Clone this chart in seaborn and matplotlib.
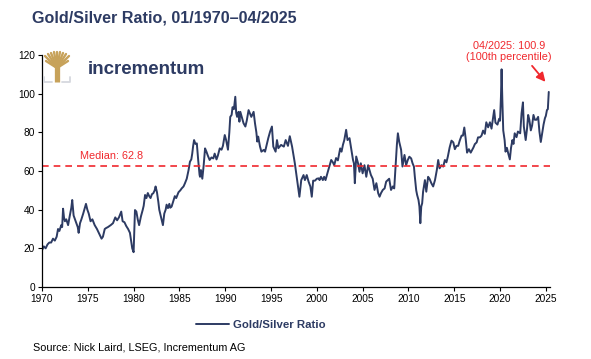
import numpy as np
import pandas as pd
import matplotlib
matplotlib.use("Agg")
import matplotlib.pyplot as plt
import seaborn as sns

# ---- data ----
years = [
    1970.0, 1970.2, 1970.4, 1970.6, 1970.8, 1971.0, 1971.2, 1971.4, 1971.6, 1971.75, 1971.9,
    1972.1, 1972.2, 1972.3, 1972.4, 1972.5, 1972.65, 1972.85, 1973.0, 1973.2, 1973.3, 1973.45,
    1973.6, 1973.75, 1973.9, 1974.0, 1974.15, 1974.3, 1974.5, 1974.8, 1974.95, 1975.1, 1975.3,
    1975.5, 1975.75, 1976.0, 1976.2, 1976.5, 1976.65, 1976.85, 1977.0, 1977.2, 1977.5, 1977.75,
    1978.0, 1978.2, 1978.4, 1978.65, 1978.8, 1979.0, 1979.2, 1979.4, 1979.6, 1979.75, 1979.85,
    1980.0, 1980.15, 1980.3, 1980.45, 1980.6, 1980.8, 1981.0, 1981.1, 1981.25, 1981.4, 1981.55,
    1981.7, 1981.85, 1982.0, 1982.15, 1982.3, 1982.4, 1982.55, 1982.7, 1982.8, 1982.95, 1983.1,
    1983.2, 1983.35, 1983.5, 1983.6, 1983.75, 1983.9, 1984.0, 1984.15, 1984.3, 1984.5, 1984.65,
    1984.9, 1985.1, 1985.25, 1985.45, 1985.6, 1985.8, 1986.0, 1986.15, 1986.3, 1986.4, 1986.5,
    1986.6, 1986.75, 1986.9, 1987.05, 1987.2, 1987.25, 1987.35, 1987.5, 1987.65, 1987.8, 1987.95,
    1988.1, 1988.3, 1988.5, 1988.7, 1988.85, 1989.05, 1989.2, 1989.4, 1989.6, 1989.75, 1989.95,
    1990.1, 1990.3, 1990.45, 1990.55, 1990.7, 1990.8, 1990.95, 1991.1, 1991.2, 1991.3, 1991.45,
    1991.55, 1991.65, 1991.8, 1992.0, 1992.2, 1992.35, 1992.55, 1992.7, 1992.85, 1993.1, 1993.25,
    1993.4, 1993.5, 1993.6, 1993.8, 1993.95, 1994.2, 1994.35, 1994.5, 1994.7, 1994.9, 1995.1,
    1995.25, 1995.5, 1995.65, 1995.8, 1996.1, 1996.4, 1996.6, 1996.85, 1997.05, 1997.3, 1997.45,
    1997.6, 1997.8, 1997.95, 1998.1, 1998.3, 1998.55, 1998.7, 1998.9, 1999.1, 1999.3, 1999.45,
    1999.6, 1999.8, 2000.0, 2000.2, 2000.3, 2000.45, 2000.66, 2000.8, 2000.95, 2001.1, 2001.2,
    2001.4, 2001.57, 2001.75, 2001.9, 2002.1, 2002.3, 2002.55, 2002.7, 2002.85, 2003.0, 2003.2,
    2003.35, 2003.57, 2003.75, 2003.95, 2004.05, 2004.15, 2004.3, 2004.5, 2004.66, 2004.8, 2005.0,
    2005.2, 2005.4, 2005.6, 2005.75, 2005.9, 2006.1, 2006.3, 2006.5, 2006.7, 2006.85, 2007.0,
    2007.2, 2007.4, 2007.57, 2007.75, 2007.9, 2008.1, 2008.3, 2008.45, 2008.6, 2008.74, 2008.85,
    2009.0, 2009.2, 2009.35, 2009.57, 2009.75, 2009.93, 2010.1, 2010.3, 2010.45, 2010.6, 2010.7,
    2010.85, 2010.95, 2011.1, 2011.2, 2011.3, 2011.4, 2011.5, 2011.6, 2011.8, 2011.95, 2012.15,
    2012.3, 2012.5, 2012.7, 2012.9, 2013.1, 2013.25, 2013.4, 2013.6, 2013.8, 2013.98, 2014.15,
    2014.3, 2014.5, 2014.7, 2014.9, 2015.07, 2015.25, 2015.43, 2015.6, 2015.8, 2015.95, 2016.1,
    2016.25, 2016.4, 2016.6, 2016.8, 2017.1, 2017.25, 2017.45, 2017.6, 2017.8, 2017.98, 2018.15,
    2018.34, 2018.5, 2018.7, 2018.9, 2019.07, 2019.2, 2019.36, 2019.5, 2019.72, 2019.9, 2020.0,
    2020.1, 2020.17, 2020.25, 2020.35, 2020.5, 2020.6, 2020.75, 2020.9, 2021.07, 2021.2, 2021.35,
    2021.47, 2021.6, 2021.8, 2021.95, 2022.2, 2022.35, 2022.5, 2022.6, 2022.8, 2022.95, 2023.07,
    2023.2, 2023.36, 2023.5, 2023.65, 2023.8, 2023.98, 2024.16, 2024.3, 2024.45, 2024.6, 2024.75,
    2024.9, 2025.0, 2025.12, 2025.22, 2025.32,
]
ratio = [
    19, 21, 20, 22, 23, 23, 25, 24, 26, 30, 29,
    32, 31, 40.5, 36, 34, 35, 32, 36, 41, 45, 37,
    35, 33, 31, 28, 33, 35, 38, 43, 40, 38, 34,
    35, 32, 30, 28, 25, 26, 30, 30.5, 31, 32, 33,
    36, 34.5, 36, 39, 34, 33.5, 31.5, 30, 28, 23, 20,
    18, 39.8, 39, 35, 32, 36.5, 40, 42, 47.6, 46, 48.6,
    47, 46, 48, 48.5, 50, 52, 49, 44, 40, 37, 34,
    32, 38, 40, 42.6, 40.8, 43, 41, 41.6, 44, 47, 46,
    49, 50, 51, 52, 53.6, 56, 60.5, 64.8, 66, 69, 73,
    76, 74, 74.3, 65.7, 58, 57, 60.5, 56, 63, 71.7, 70,
    68, 65.7, 67, 66.5, 69, 66, 68, 71.7, 71, 73, 78.6,
    76, 71, 80, 88, 89, 93, 92, 98.4, 90, 88, 90.6,
    85.5, 90.6, 88, 84.7, 83, 86, 91.5, 89.8, 88, 90.6, 84.7,
    80, 75.2, 77.8, 72.6, 70, 70.9, 70, 73, 77, 80.4, 83,
    72.6, 70, 76, 71.8, 73.5, 72.6, 76, 73, 78, 72.6, 68.3,
    64, 57, 52, 46.7, 55.3, 57.9, 55.3, 57.9, 54.5, 51.9, 46.7,
    55, 55, 56, 56.2, 55.3, 57, 55.3, 57, 55.3, 58, 59.6,
    63, 65.7, 64.5, 63, 66.7, 65.5, 71.7, 70, 73.5, 76, 81.3,
    76, 77, 71.7, 65.7, 64, 53.7, 67.5, 64, 59.6, 64, 58.8,
    63, 57, 63, 60.5, 58, 56, 50.2, 53.7, 48.5, 46.7, 48.5,
    50.2, 51, 54.5, 55.3, 56, 50.2, 52, 51, 62.3, 73.6, 79.5,
    75, 71, 62.3, 68.3, 63, 65.7, 67.4, 66.5, 64, 62.3, 57,
    50, 47.6, 45, 41.6, 33, 41.6, 43.3, 49.3, 55.3, 49.3, 57,
    56, 53.7, 52, 55.3, 60.5, 65.7, 61.4, 63, 62.3, 65.7, 64.5,
    67.4, 72.2, 75.7, 74.8, 71.3, 73, 73, 75.7, 78.3, 78.3, 82.5,
    76.7, 69.5, 71.3, 69.5, 72.2, 73.9, 74.8, 77.4, 77.4, 78.3, 80.9,
    79.2, 85.2, 82.6, 85.2, 81.9, 86.1, 91.5, 85, 84, 87, 86,
    98.4, 112.6, 97, 81, 76, 70, 72, 69, 66, 72, 76,
    74, 79.5, 77.5, 80.4, 79.5, 89.8, 95.5, 83, 76, 82, 89,
    86.5, 81, 83.5, 89, 86.5, 86.5, 88, 80.4, 75, 79.5, 84,
    87.3, 88.5, 91.5, 92, 100.9,
]
median_value = 62.8
series_name = "Gold/Silver Ratio"
title_text = "Gold/Silver Ratio, 01/1970\u201304/2025"
source_text = "Source: Nick Laird, LSEG, Incrementum AG"
annotation_text = "04/2025: 100.9\n(100th percentile)"
x_ticks = list(range(1970, 2026, 5))
y_ticks = list(range(0, 121, 20))

df = pd.DataFrame({"year": years, series_name: ratio})

# ---- styling ----
sns.set_style("ticks")
plt.rcParams["font.family"] = ["Liberation Sans", "DejaVu Sans"]

navy = "#2D3B63"
red = "#F0282D"

fig = plt.figure(figsize=(5.91, 3.59), dpi=100)
ax = fig.add_axes([42 / 591, 72 / 359, 507.5 / 591, 232 / 359])

sns.lineplot(data=df, x="year", y=series_name, ax=ax, color=navy,
             linewidth=1.4, label=series_name, legend=False)

ax.axhline(median_value, color=red, linestyle=(0, (4, 3)), linewidth=1.2)
ax.text(1974.2, median_value + 2.3, f"Median: {median_value}", color=red,
        fontsize=7.8, ha="left", va="bottom")

ax.annotate("", xy=(2025.15, 105), xytext=(2023.3, 115.5),
            arrowprops=dict(arrowstyle="-|>", color=red, lw=1.3,
                            mutation_scale=13),
            annotation_clip=False)
ax.text(2020.95, 122, annotation_text, color=red, fontsize=7.8,
        ha="center", va="center", linespacing=1.1, clip_on=False)

ax.set_xlim(1970, 2025.4)
ax.set_ylim(0, 120)
ax.set_xticks(x_ticks)
ax.set_yticks(y_ticks)
ax.tick_params(axis="both", labelsize=7.3, length=3, width=0.8, colors="black",
               pad=2)
for s in ["top", "right"]:
    ax.spines[s].set_visible(False)
for s in ["left", "bottom"]:
    ax.spines[s].set_color("black")
    ax.spines[s].set_linewidth(0.9)
ax.set_xlabel("")
ax.set_ylabel("")

# title
fig.text(32 / 591, 1 - 18 / 359, title_text, fontsize=11.6, fontweight="bold",
         color=navy, ha="left", va="center")

# logo (tree mark + wordmark)
gold = "#C7A25A"
def px(x, y):
    return (x / 591, 1 - y / 359)
trunk_x = [px(57, 82)[0], px(57, 66)[0]]
trunk_y = [px(57, 82)[1], px(57, 66)[1]]
fig.lines.append(plt.Line2D(trunk_x, trunk_y, transform=fig.transFigure,
                            color=gold, lw=3.8, solid_capstyle="butt"))
for tx, ty in [(45, 56), (48, 54), (51, 53), (54, 52), (57, 52), (60, 52),
               (63, 53), (66, 54), (69, 56), (46, 61), (68, 61)]:
    xs, ys = zip(px(57, 68), px(tx, ty))
    fig.lines.append(plt.Line2D(xs, ys, transform=fig.transFigure,
                                color=gold, lw=1.7))
for seg in [((44, 77), (44, 82), (52, 82)), ((62, 82), (70, 82), (70, 77))]:
    xs, ys = zip(*[px(a, b) for a, b in seg])
    fig.lines.append(plt.Line2D(xs, ys, transform=fig.transFigure,
                                color="#D5D8DE", lw=1.3))
fig.text(88 / 591, 1 - 69 / 359, "incrementum", fontsize=13.5, color=navy,
         fontweight="bold", ha="left", va="center")

# legend
handles, labels = ax.get_legend_handles_labels()
leg = fig.legend(handles, labels, loc="center", bbox_to_anchor=(261 / 591, 1 - 325 / 359),
                 frameon=False, prop={"size": 8.2, "weight": "bold"},
                 handlelength=2.9, handletextpad=0.3)
for t in leg.get_texts():
    t.set_color(navy)

# source
fig.text(33 / 591, 1 - 348 / 359, source_text, fontsize=7.8, color="black",
         ha="left", va="center")

fig.savefig("out.png", dpi=100)
